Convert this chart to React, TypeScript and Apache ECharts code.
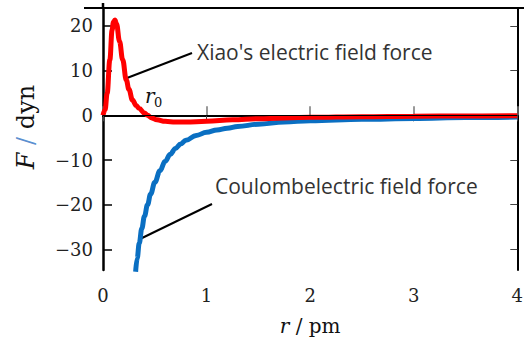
import React, { useEffect, useRef } from "react";
import * as echarts from "echarts";

// r (pm), F (dyn)
const xiaoR = [0, 0.02, 0.04, 0.066, 0.088, 0.1, 0.115, 0.13, 0.16, 0.19, 0.225, 0.25, 0.285, 0.32, 0.35, 0.4, 0.43, 0.47, 0.52, 0.6, 0.7, 0.8, 1.0, 1.25, 1.5, 2, 2.5, 3, 3.5, 4];
const xiaoF = [0, 1.2, 4.9, 12.4, 19.1, 20.8, 21.3, 20.5, 16.5, 12.4, 7.9, 5.8, 3.4, 2.2, 1.5, 0.5, 0, -0.6, -1.0, -1.35, -1.5, -1.5, -1.35, -1.0, -0.75, -0.45, -0.3, -0.2, -0.15, -0.1];

const coulR = [0.315, 0.33, 0.35, 0.375, 0.4, 0.43, 0.46, 0.5, 0.55, 0.6, 0.65, 0.7, 0.75, 0.8, 0.9, 1.0, 1.1, 1.2, 1.3, 1.5, 1.75, 2.0, 2.5, 3.0, 3.5, 4.0];
const coulF = [-35, -32, -28.6, -25.3, -22.6, -20, -17.6, -15, -12.4, -10.3, -8.7, -7.4, -6.4, -5.6, -4.5, -3.8, -3.3, -2.9, -2.5, -2.0, -1.5, -1.2, -0.9, -0.7, -0.5, -0.4];

const xTicks = [0, 1, 2, 3, 4];
const yTicks = [-30, -20, -10, 0, 10, 20];

const xiaoLabel = "Xiao's electric field force";
const coulLabel = "Coulombelectric field force";

const SERIF = "DejaVu Serif";
const SANS = "Open Sans";

export default function App() {
  const ref = useRef<HTMLDivElement>(null);
  useEffect(() => {
    if (!ref.current) return;
    const chart = echarts.init(ref.current, null, { renderer: "svg" });
    const fmt = (v: number) => String(v).replace("-", "\u2212");
    chart.setOption({
      animation: false,
      backgroundColor: "#ffffff",
      grid: { left: 103, right: 3, top: 8, bottom: 73 },
      xAxis: [
        {
          type: "value",
          min: 0,
          max: 4,
          interval: 1,
          position: "bottom",
          name: "{i|r} / pm",
          nameLocation: "middle",
          nameGap: 46,
          nameTextStyle: {
            fontFamily: SERIF,
            fontSize: 20,
            color: "#111",
            rich: { i: { fontFamily: SERIF, fontStyle: "italic", fontSize: 20, color: "#111" } },
          },
          axisLine: { show: true, lineStyle: { color: "#000", width: 2 } },
          axisTick: { show: true, inside: true, length: 9, customValues: xTicks, lineStyle: { color: "#777", width: 1.5 } },
          axisLabel: { fontFamily: SERIF, fontSize: 18, color: "#222", margin: 16, customValues: xTicks, formatter: fmt },
          splitLine: { show: false },
        },
        {
          type: "value",
          min: 0,
          max: 4,
          interval: 1,
          position: "top",
          axisLine: { show: true, lineStyle: { color: "#000", width: 2 } },
          axisTick: { show: true, inside: true, length: 6, lineStyle: { color: "#444", width: 1 } },
          axisLabel: { show: false },
          splitLine: { show: false },
        },
      ],
      yAxis: [
        {
          type: "value",
          min: -34.6,
          max: 24,
          position: "left",
          axisLine: { show: true, onZero: false, lineStyle: { color: "#000", width: 2.5 } },
          axisTick: { show: true, inside: true, length: 9, customValues: yTicks, lineStyle: { color: "#000", width: 1.5 } },
          axisLabel: { fontFamily: SERIF, fontSize: 18, color: "#222", margin: 10, customValues: yTicks, formatter: fmt },
          splitLine: { show: false },
        },
        {
          type: "value",
          min: -34.6,
          max: 24,
          position: "right",
          axisLine: { show: true, onZero: false, lineStyle: { color: "#000", width: 2 } },
          axisTick: { show: true, inside: true, length: 7, customValues: yTicks, lineStyle: { color: "#444", width: 1 } },
          axisLabel: { show: false },
          splitLine: { show: false },
        },
      ],
      series: [
        {
          type: "line",
          name: "Coulomb",
          data: coulR.map((r, i) => [r, coulF[i]]),
          smooth: 0.4,
          smoothMonotone: "x",
          showSymbol: false,
          clip: true,
          lineStyle: { color: "#0a6fc2", width: 5 },
          markLine: {
            silent: true,
            symbol: "none",
            label: { show: false },
            lineStyle: { color: "#000", width: 1, type: "solid" },
            data: [{ yAxis: 0 }],
          },
        },
        {
          type: "line",
          name: "Xiao",
          data: xiaoR.map((r, i) => [r, xiaoF[i]]),
          smooth: 0.4,
          smoothMonotone: "x",
          showSymbol: false,
          clip: true,
          lineStyle: { color: "#ff0000", width: 5 },
        },
      ],
      graphic: [
        { type: "line", shape: { x1: 84, y1: 8, x2: 524, y2: 8 }, style: { stroke: "#000", lineWidth: 2 } },
        { type: "line", shape: { x1: 103, y1: 3, x2: 103, y2: 8 }, style: { stroke: "#000", lineWidth: 2.5 } },
        { type: "line", shape: { x1: 127, y1: 78, x2: 192, y2: 53 }, style: { stroke: "#000", lineWidth: 2 } },
        { type: "line", shape: { x1: 140, y1: 239, x2: 212, y2: 204 }, style: { stroke: "#000", lineWidth: 2 } },
        {
          type: "text",
          x: 197,
          y: 52,
          style: { text: xiaoLabel, fontFamily: SANS, fontSize: 21, fill: "#333", textVerticalAlign: "middle" },
        },
        {
          type: "text",
          x: 215,
          y: 186,
          style: { text: coulLabel, fontFamily: SANS, fontSize: 21, fill: "#333", textVerticalAlign: "middle" },
        },
        {
          type: "text",
          x: 145,
          y: 86,
          style: { text: "r", fontFamily: SERIF, fontStyle: "italic", fontSize: 20, fill: "#111" },
        },
        {
          type: "text",
          x: 154,
          y: 96,
          style: { text: "0", fontFamily: SERIF, fontSize: 13, fill: "#111" },
        },
        {
          type: "text",
          x: 26,
          y: 127,
          rotation: Math.PI / 2,
          style: {
            text: "{i|F} {s|/} {n|dyn}",
            fontFamily: SERIF,
            fontSize: 24,
            fill: "#111",
            align: "center",
            verticalAlign: "middle",
            rich: {
              i: { fontFamily: SERIF, fontStyle: "italic", fontSize: 24, fill: "#111" },
              s: { fontFamily: SERIF, fontSize: 24, fill: "#5b8fd0" },
              n: { fontFamily: SERIF, fontSize: 24, fill: "#111" },
            },
          },
        },
      ],
    });
    return () => chart.dispose();
  }, []);
  return <div ref={ref} style={{ position: "fixed", left: 0, top: 0, width: 526, height: 343 }} />;
}
